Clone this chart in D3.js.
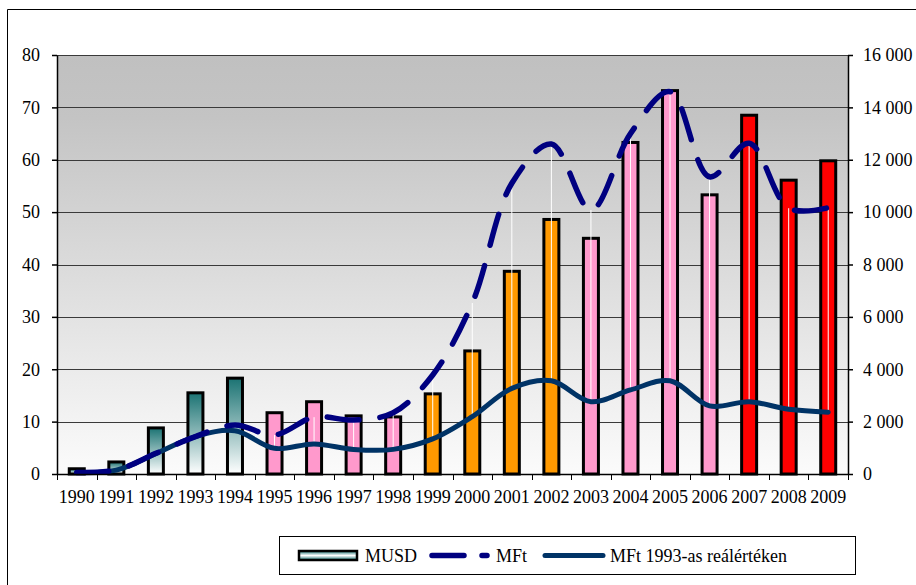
<!DOCTYPE html>
<html>
<head>
<meta charset="utf-8">
<script src="https://cdn.jsdelivr.net/npm/d3@7"></script>
<style>
  body { margin: 0; background: #fff; }
  svg text { font-family: 'Liberation Serif', 'Times New Roman', Times, 'DejaVu Serif', serif; font-size: 18px; fill: #000; }
</style>
</head>
<body>
<div id="container"></div>
<script>
const width = 916;
const height = 585;

// data
const years = ["1990", "1991", "1992", "1993", "1994", "1995", "1996", "1997", "1998", "1999",
  "2000", "2001", "2002", "2003", "2004", "2005", "2006", "2007", "2008", "2009"];
const musd = [1.0, 2.3, 8.8, 15.5, 18.3, 11.7, 13.8, 11.1, 10.9, 15.3,
  23.5, 38.7, 48.6, 45.0, 63.3, 73.2, 53.3, 68.5, 56.1, 59.8];
const mft = [60, 150, 790, 1430, 1870, 1490, 2170, 2060, 2340, 3780,
  6530, 11100, 12600, 10080, 13000, 14600, 11350, 12630, 10150, 10170];
const mftReal = [60, 150, 780, 1430, 1650, 980, 1150, 940, 940, 1340,
  2190, 3270, 3560, 2760, 3210, 3560, 2600, 2760, 2470, 2360];
const leftTicks = [0, 10, 20, 30, 40, 50, 60, 70, 80];
const rightTicks = [0, 2000, 4000, 6000, 8000, 10000, 12000, 14000, 16000];
const legendLabels = ["MUSD", "MFt", "MFt 1993-as reálértéken"];

const plotLeft = 57, plotRight = 848, plotTop = 55, plotBottom = 474;
const serif = "'Liberation Serif', 'Times New Roman', Times, 'DejaVu Serif', serif";

function barFill(year) {
    let y = +year;
    if (y <= 1994) return "url(#tealGrad)";
    if (y <= 1998) return "#ff99cc";
    if (y <= 2002) return "#ff9900";
    if (y <= 2006) return "#ff99cc";
    return "#ff0000";
}

let svg = d3.select("#container").append("svg")
    .attr("width", width)
    .attr("height", height)
    .attr("viewBox", `0 0 ${width} ${height}`)
    .attr("font-family", serif);

let defs = svg.append("defs");
let bg = defs.append("linearGradient").attr("id", "bgGrad")
    .attr("x1", 0).attr("y1", 0).attr("x2", 0).attr("y2", 1);
bg.append("stop").attr("offset", "0%").attr("stop-color", "#c0c0c0");
bg.append("stop").attr("offset", "15%").attr("stop-color", "#c4c4c4");
bg.append("stop").attr("offset", "100%").attr("stop-color", "#fbfbfb");

let teal = defs.append("linearGradient").attr("id", "tealGrad")
    .attr("x1", 0).attr("y1", 0).attr("x2", 0).attr("y2", 1);
teal.append("stop").attr("offset", "0%").attr("stop-color", "#1b7373");
teal.append("stop").attr("offset", "100%").attr("stop-color", "#ffffff");

let tealLeg = defs.append("linearGradient").attr("id", "tealLeg")
    .attr("x1", 0).attr("y1", 0).attr("x2", 0).attr("y2", 1);
tealLeg.append("stop").attr("offset", "0%").attr("stop-color", "#1b7373");
tealLeg.append("stop").attr("offset", "50%").attr("stop-color", "#ffffff");
tealLeg.append("stop").attr("offset", "100%").attr("stop-color", "#1b7373");

// outer frame (runs off the right and bottom edges)
svg.append("path")
    .attr("d", `M7.5,${height + 2} V9.5 H${width + 2}`)
    .attr("fill", "none")
    .attr("stroke", "#000")
    .attr("stroke-width", 1);

let x = d3.scaleBand().domain(years).range([plotLeft, plotRight]).paddingInner(0).paddingOuter(0);
let yL = d3.scaleLinear().domain([0, 80]).range([plotBottom, plotTop]);
let yR = d3.scaleLinear().domain([0, 16000]).range([plotBottom, plotTop]);

// plot background
svg.append("rect")
    .attr("x", plotLeft).attr("y", plotTop)
    .attr("width", plotRight - plotLeft).attr("height", plotBottom - plotTop)
    .attr("fill", "url(#bgGrad)");

// gridlines
svg.append("g")
    .selectAll("line")
    .data(leftTicks.filter(d => d > 0))
    .join("line")
    .attr("x1", plotLeft).attr("x2", plotRight)
    .attr("y1", d => Math.round(yL(d)) + 0.5)
    .attr("y2", d => Math.round(yL(d)) + 0.5)
    .attr("stroke", "#3a3a3a")
    .attr("stroke-width", 1);

// bars
let barW = 15;
svg.append("g")
    .selectAll("rect")
    .data(years)
    .join("rect")
    .attr("x", d => x(d) + x.bandwidth() / 2 - barW / 2)
    .attr("y", (d, i) => yL(musd[i]))
    .attr("width", barW)
    .attr("height", (d, i) => plotBottom - yL(musd[i]))
    .attr("fill", d => barFill(d))
    .attr("stroke", "#000")
    .attr("stroke-width", 3);

// high-low lines between the two MFt series
svg.append("g")
    .selectAll("line")
    .data(years)
    .join("line")
    .attr("x1", d => x(d) + x.bandwidth() / 2)
    .attr("x2", d => x(d) + x.bandwidth() / 2)
    .attr("y1", (d, i) => yR(mft[i]))
    .attr("y2", (d, i) => yR(mftReal[i]))
    .attr("stroke", "#ffffff")
    .attr("stroke-width", 1);

let line = d3.line()
    .x((d, i) => x(years[i]) + x.bandwidth() / 2)
    .y(d => yR(d))
    .curve(d3.curveCatmullRom.alpha(0.5));

svg.append("path")
    .attr("d", line(mftReal))
    .attr("fill", "none")
    .attr("stroke", "#003366")
    .attr("stroke-width", 5)
    .attr("stroke-linecap", "round");

svg.append("path")
    .attr("d", line(mft))
    .attr("fill", "none")
    .attr("stroke", "#000080")
    .attr("stroke-width", 5.5)
    .attr("stroke-linecap", "round")
    .attr("stroke-dasharray", "32,21");

// axes
let axisL = svg.append("g")
    .attr("transform", `translate(${plotLeft},0)`)
    .call(d3.axisLeft(yL).tickValues(leftTicks).tickSize(5).tickSizeOuter(0).tickPadding(10));
let axisR = svg.append("g")
    .attr("transform", `translate(${plotRight},0)`)
    .call(d3.axisRight(yR).tickValues(rightTicks).tickSize(5).tickSizeOuter(0).tickPadding(10)
        .tickFormat(d => d3.format(",")(d).replace(",", " ")));
let axisB = svg.append("g")
    .attr("transform", `translate(0,${plotBottom})`)
    .call(d3.axisBottom(x).tickSize(0).tickPadding(16));

// x ticks at band edges
svg.append("g")
    .selectAll("line")
    .data(d3.range(years.length + 1))
    .join("line")
    .attr("x1", i => Math.round(plotLeft + i * x.step()) + 0.5)
    .attr("x2", i => Math.round(plotLeft + i * x.step()) + 0.5)
    .attr("y1", plotBottom).attr("y2", plotBottom + 6)
    .attr("stroke", "#000");

[axisL, axisR, axisB].forEach(a => {
    a.attr("font-family", serif).attr("font-size", 18);
    a.selectAll("text").attr("font-family", serif).attr("font-size", 18).attr("fill", "#000");
    a.selectAll("line").attr("stroke", "#000").attr("stroke-width", 1.5);
    a.select(".domain").attr("stroke", "#000").attr("stroke-width", 1.5);
});
axisL.selectAll("text").attr("dx", "-2");

// legend
let leg = svg.append("g").attr("font-family", serif).attr("font-size", 18);
leg.append("rect")
    .attr("x", 279.5).attr("y", 536.5)
    .attr("width", 576).attr("height", 38)
    .attr("fill", "#fff")
    .attr("stroke", "#000")
    .attr("stroke-width", 1);

leg.append("rect")
    .attr("x", 299).attr("y", 551)
    .attr("width", 58).attr("height", 9)
    .attr("fill", "url(#tealLeg)")
    .attr("stroke", "#000")
    .attr("stroke-width", 2.5);
leg.append("text").attr("x", 365).attr("y", 562).text(legendLabels[0]);

leg.append("line")
    .attr("x1", 432).attr("x2", 487)
    .attr("y1", 555.5).attr("y2", 555.5)
    .attr("stroke", "#000080")
    .attr("stroke-width", 5.5)
    .attr("stroke-linecap", "round")
    .attr("stroke-dasharray", "32,18");
leg.append("text").attr("x", 496).attr("y", 562).text(legendLabels[1]);

leg.append("line")
    .attr("x1", 545).attr("x2", 603)
    .attr("y1", 555.5).attr("y2", 555.5)
    .attr("stroke", "#003366")
    .attr("stroke-width", 5)
    .attr("stroke-linecap", "round");
leg.append("text").attr("x", 610).attr("y", 562).text(legendLabels[2]);
</script>
</body>
</html>
